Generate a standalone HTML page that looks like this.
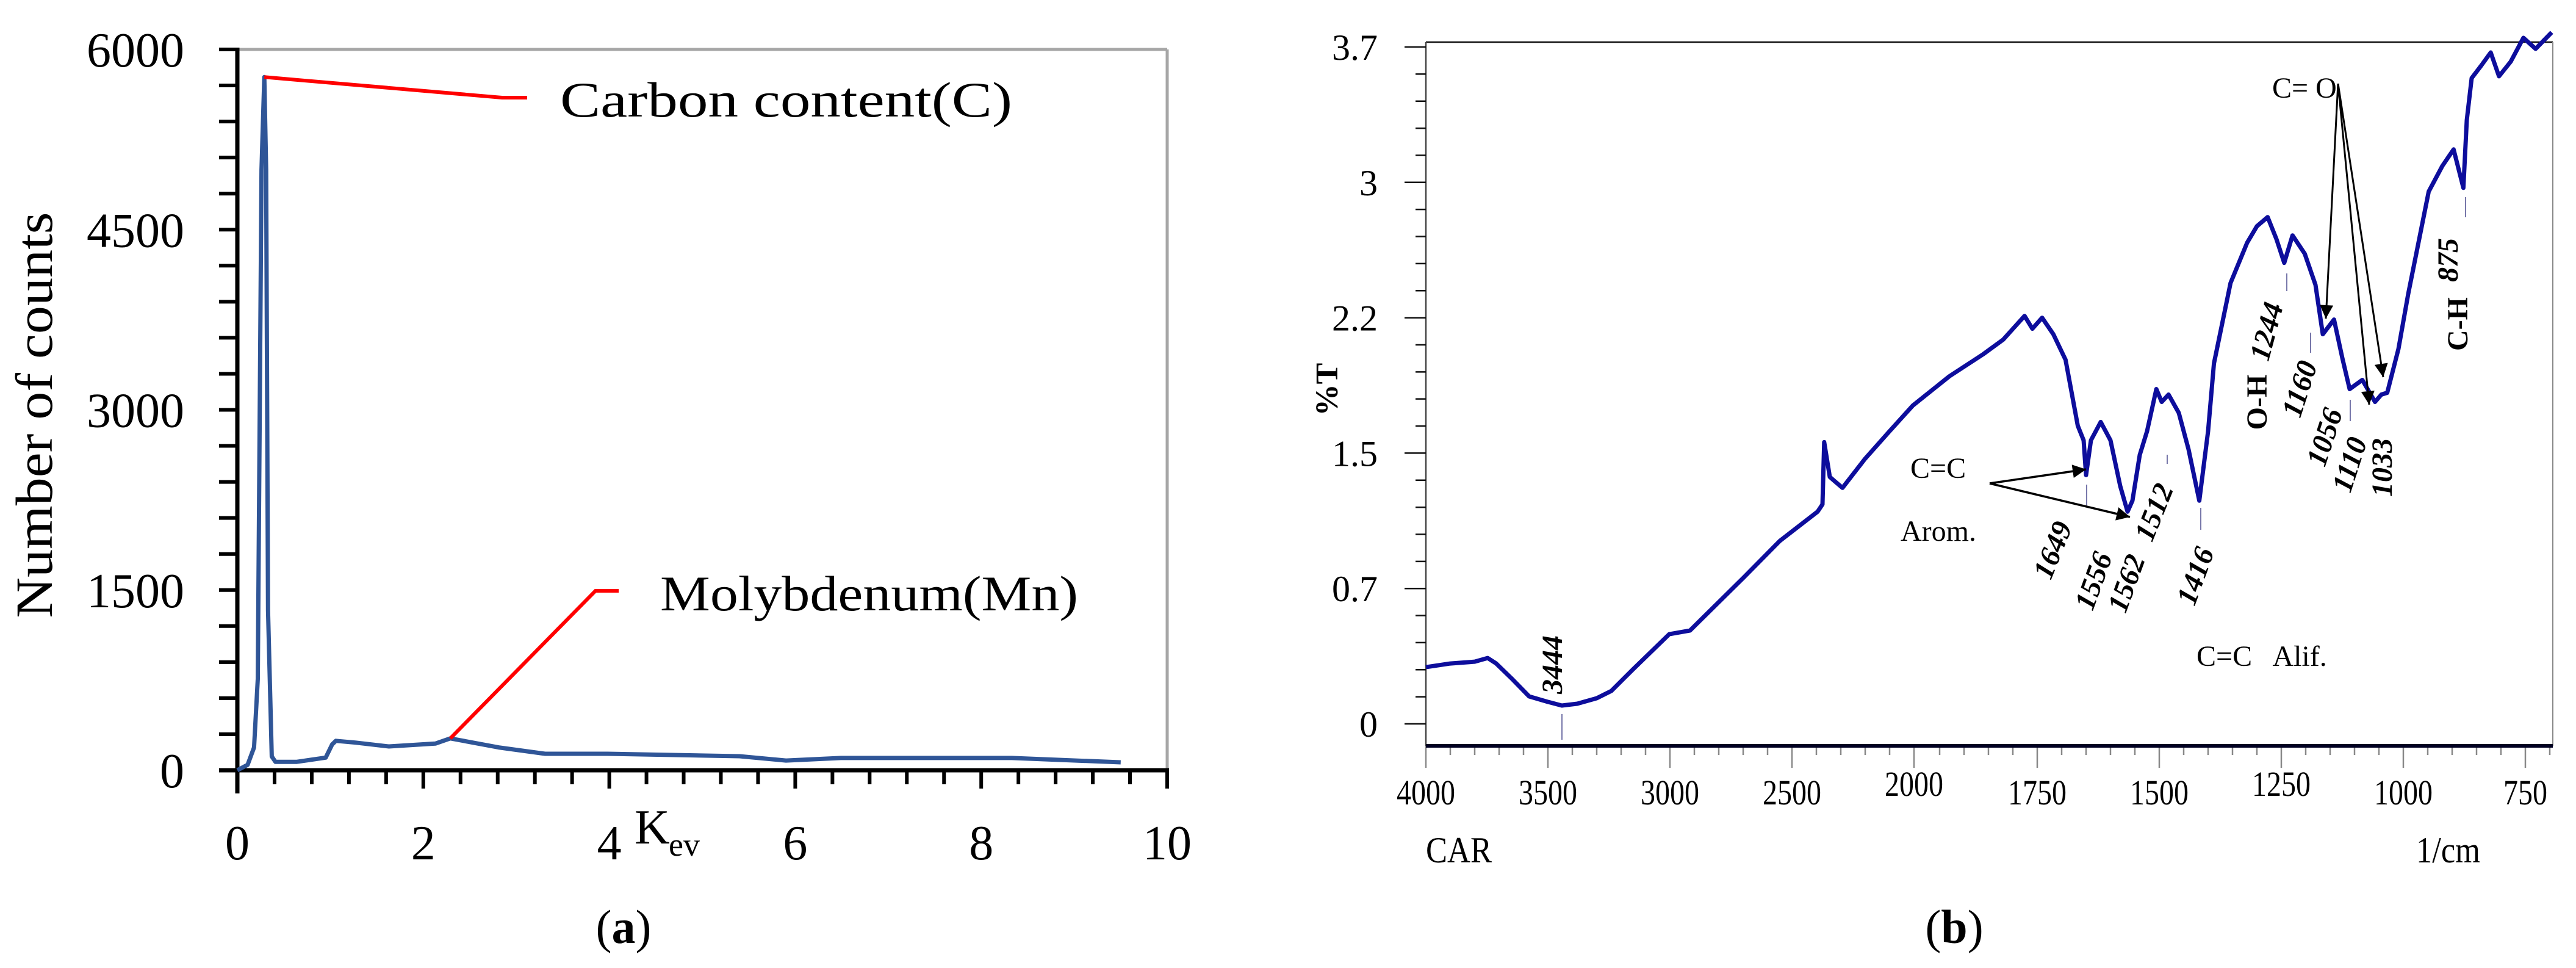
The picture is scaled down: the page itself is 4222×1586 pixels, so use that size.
<!DOCTYPE html>
<html><head><meta charset="utf-8"><style>
html,body{margin:0;padding:0;background:#fff;}
svg{display:block;}
text{font-family:"Liberation Serif",serif;}
</style></head><body>
<svg id="fig" width="4222" height="1586" viewBox="0 0 4222 1586" xmlns="http://www.w3.org/2000/svg">
<defs>
<marker id="ah" viewBox="0 0 10 10" refX="10" refY="5" markerWidth="48" markerHeight="22" markerUnits="userSpaceOnUse" orient="auto">
<path d="M0,0 L10,5 L0,10 z" fill="#000"/></marker>
</defs>
<g id="chartA"></g>
<g id="chartB"></g>
</svg>
<script>
// ---------- Chart (a) data ----------
const edsKev = [0,0.11,0.18,0.22,0.26,0.29,0.31,0.33,0.37,0.41,0.64,0.95,1.02,1.06,1.27,1.63,2.13,2.29,2.81,3.31,3.98,5.4,5.9,6.49,8.33,9.5];
const edsCounts = [0,45,190,760,5000,5770,5000,1330,115,70,70,105,215,245,230,198,222,265,190,137,137,117,81,102,102,66];
const edsXTicks = [0,2,4,6,8,10];
const edsYTicks = [0,1500,3000,4500,6000];

// ---------- Chart (b) data ----------
const ftirWave = [4000,3900,3800,3747,3712,3650,3577,3500,3443,3380,3300,3240,3150,3003,2918,2850,2698,2550,2395,2375,2368,2345,2328,2293,2200,2100,2005,1930,1861,1820,1776,1760,1740,1717,1692,1667,1655,1650,1640,1620,1600,1580,1565,1555,1540,1525,1506,1495,1481,1460,1440,1418,1400,1388,1354,1320,1300,1278,1260,1244,1227,1202,1180,1165,1142,1125,1110,1084,1058,1045,1033,1010,990,948,920,897,877,870,860,840,821,804,780,754,729,696];
const ftirT = [0.31,0.33,0.34,0.36,0.33,0.25,0.15,0.12,0.10,0.11,0.14,0.18,0.30,0.49,0.51,0.60,0.80,1.00,1.16,1.20,1.54,1.35,1.33,1.29,1.45,1.60,1.74,1.90,2.02,2.10,2.23,2.16,2.22,2.13,1.99,1.63,1.55,1.36,1.55,1.65,1.55,1.30,1.16,1.22,1.47,1.60,1.83,1.76,1.80,1.70,1.50,1.22,1.60,1.97,2.41,2.63,2.72,2.77,2.65,2.52,2.67,2.57,2.40,2.13,2.21,2.00,1.83,1.88,1.76,1.80,1.81,2.05,2.35,2.91,3.05,3.14,2.93,3.30,3.53,3.60,3.67,3.54,3.62,3.75,3.69,3.78];
const ftirXTicks = [4000,3500,3000,2500,2000,1750,1500,1250,1000,750];
const ftirYTickValues = [0,0.74,1.48,2.22,2.96,3.7];
const ftirYTickLabels = ["0","0.7","1.5","2.2","3","3.7"];
const peakLabels = ["3444","1649","1556","1562","1512","1416","1244","1160","1056","1110","1033","875"];
const peakWaves = [3444,1649,1556,1562,1512,1416,1244,1160,1056,1110,1033,875];

const NS="http://www.w3.org/2000/svg";
function mk(parent,tag,attrs,txt){const e=document.createElementNS(NS,tag);for(const k in attrs)e.setAttribute(k,attrs[k]);if(txt!==undefined)e.textContent=txt;parent.appendChild(e);return e;}

// ================= Chart A =================
const A=document.getElementById('chartA');
const ax0=389, ax1=1913, ay0=1262, ay1=81;
const xA=v=>ax0+(v/10)*(ax1-ax0);
const yA=v=>ay0-(v/6000)*(ay0-ay1);

let e;
e=mk(A,'line',{x1:ax0,y1:ay1,x2:ax1,y2:ay1,stroke:'#a6a6a6','stroke-width':5});


e=mk(A,'line',{x1:ax1,y1:ay1,x2:ax1,y2:ay0,stroke:'#a6a6a6','stroke-width':5});


for(let v=0;v<=6000;v+=300){
  e=mk(A,'line',{x1:359,y1:yA(v),x2:ax0,y2:yA(v),stroke:'#000','stroke-width':6});
  
  
}
edsYTicks.forEach(v=>{
  e=mk(A,'text',{x:302,y:yA(v)+28,'font-size':80,'text-anchor':'end',textLength:160,lengthAdjust:'spacingAndGlyphs'},String(v));
  if(v<1000){e.removeAttribute('textLength');}
  
  
});
for(let i=0;i<=25;i++){
  const v=i*0.4; const major=(i%5===0);
  e=mk(A,'line',{x1:xA(v),y1:ay0,x2:xA(v),y2:major?1292:1285,stroke:'#000','stroke-width':6});
  
  
}
edsXTicks.forEach(v=>{
  e=mk(A,'text',{x:xA(v),y:1408,'font-size':80,'text-anchor':'middle'},String(v));
  
  
});
e=mk(A,'line',{x1:ax0,y1:ay1-3,x2:ax0,y2:1300,stroke:'#000','stroke-width':7});


e=mk(A,'line',{x1:359,y1:ay0,x2:ax1+3,y2:ay0,stroke:'#000','stroke-width':7});


let dA=edsKev.map((k,i)=>(i?'L':'M')+xA(k).toFixed(1)+','+yA(edsCounts[i]).toFixed(1)).join(' ');
e=mk(A,'path',{d:dA,fill:'none',stroke:'#2F5597','stroke-width':7,'stroke-linejoin':'round'});


e=mk(A,'polyline',{points:`${xA(0.29)},${yA(5770)} 823,160 864,160`,fill:'none',stroke:'#ff0000','stroke-width':6});


e=mk(A,'text',{x:918,y:191,'font-size':82,textLength:741,lengthAdjust:'spacingAndGlyphs'},'Carbon content(C)');


e=mk(A,'polyline',{points:`${xA(2.29)},${yA(265)} 976,968 1014,968`,fill:'none',stroke:'#ff0000','stroke-width':6});


e=mk(A,'text',{x:1082,y:1000,'font-size':82,textLength:685,lengthAdjust:'spacingAndGlyphs'},'Molybdenum(Mn)');


e=mk(A,'text',{x:0,y:0,'font-size':86,'text-anchor':'middle',transform:'translate(85,680) rotate(-90)',textLength:665,lengthAdjust:'spacingAndGlyphs'},'Number of counts');


e=mk(A,'text',{x:1040,y:1382,'font-size':80},'K');


e=mk(A,'text',{x:1096,y:1402,'font-size':54},'ev');


e=mk(A,'text',{x:1022,y:1545,'font-size':78,'text-anchor':'middle'});


e.innerHTML='(<tspan font-weight="bold">a</tspan>)';

// ================= Chart B =================
const B=document.getElementById('chartB');
const bx0=2337, bx1=4184, by0=1186, by1=77, byTop=69, byAxis=1222;
const xB=w=> w>=2000 ? bx0+(4000-w)*0.4 : 3139+(2000-w)*0.8;
const yB=v=>by0-(v/3.7)*(by0-by1);

e=mk(B,'line',{x1:bx0,y1:byTop,x2:bx1,y2:byTop,stroke:'#111','stroke-width':2.5});


e=mk(B,'line',{x1:bx1,y1:byTop,x2:bx1,y2:byAxis,stroke:'#888','stroke-width':2});


e=mk(B,'line',{x1:bx0,y1:byTop,x2:bx0,y2:byAxis,stroke:'#444','stroke-width':2.5});


for(let i=0;i<=25;i++){
  const v=i*3.7/25; const major=i%5===0;
  e=mk(B,'line',{x1:major?2302:2320,y1:yB(v),x2:bx0,y2:yB(v),stroke:'#111','stroke-width':2.5});
  
  
}
ftirYTickValues.forEach((v,i)=>{
  e=mk(B,'text',{x:2258,y:yB(v)+21,'font-size':60,'text-anchor':'end'},ftirYTickLabels[i]);
  
  
});
for(let w=4000; w>=700; w-= (w>2000?100:50)){
  const major=ftirXTicks.includes(w);
  e=mk(B,'line',{x1:xB(w),y1:byAxis,x2:xB(w),y2:major?1258:1237,stroke:'#888','stroke-width':2.5});
  
  
}
ftirXTicks.forEach(w=>{
  const raised=(w===2000||w===1250);
  e=mk(B,'text',{x:xB(w),y:raised?1304:1318,'font-size':58,'text-anchor':'middle',textLength:w>=1000?96:72,lengthAdjust:'spacingAndGlyphs'},String(w));
  
  
});
e=mk(B,'line',{x1:bx0,y1:byAxis,x2:bx1,y2:byAxis,stroke:'#000022','stroke-width':6});


let dB=ftirWave.map((w,i)=>(i?'L':'M')+xB(w).toFixed(1)+','+yB(ftirT[i]).toFixed(1)).join(' ');
e=mk(B,'path',{d:dB,fill:'none',stroke:'#0d0d9c','stroke-width':7,'stroke-linejoin':'round'});



const peakRot=[-90,-68,-70,-70,-68,-70,-75,-72,-72,-72,-90,-90];
const peakPos=[[2560,1073],[3379,891],[3446,941],[3500,945],[3545,829],[3613,933],[3730,531],[3784,626],[3825,705],[3866,750],[3920,750],[4028,410]];
peakLabels.forEach((t,i)=>{
  e=mk(B,'text',{x:0,y:0,'font-size':48,'font-weight':'bold','font-style':'italic','text-anchor':'middle',transform:`translate(${peakPos[i][0]},${peakPos[i][1]+16}) rotate(${peakRot[i]})`},t);
  
  
});
const leaders=[[2560,1170,2560,1212],[3420,794,3420,828],[3607,832,3607,868],[3748,448,3748,477],[4041,323,4041,356],[3552,745,3552,760],[3852,655,3852,690],[3787,545,3787,578]];
leaders.forEach(l=>{
  e=mk(B,'line',{x1:l[0],y1:l[1],x2:l[2],y2:l[3],stroke:'#7777aa','stroke-width':2});
  
  
});
function lab(txt,x,y,fs){return mk(B,'text',{x:x,y:y,'font-size':fs,style:'white-space:pre'},txt);}
e=lab('C= O',3724,160,48);


[[3812,522],[3883,663],[3906,618]].forEach(p=>{
  e=mk(B,'line',{x1:3832,y1:137,x2:p[0],y2:p[1],stroke:'#000','stroke-width':3,'marker-end':'url(#ah)'});
  
  
});
e=lab('C=C',3131,783,48);


[[3419,769],[3491,847]].forEach(p=>{
  e=mk(B,'line',{x1:3261,y1:792,x2:p[0],y2:p[1],stroke:'#000','stroke-width':3.5,'marker-end':'url(#ah)'});
  
  
});
e=lab('Arom.',3115,886,48);


e=lab('C=C   Alif.',3600,1091,48);


e=mk(B,'text',{x:0,y:0,'font-size':48,'font-weight':'bold','text-anchor':'middle',transform:'translate(3715,659) rotate(-90)'},'O-H');


e=mk(B,'text',{x:0,y:0,'font-size':48,'font-weight':'bold','text-anchor':'middle',transform:'translate(4044,531) rotate(-90)'},'C-H');


e=mk(B,'text',{x:0,y:0,'font-size':52,'font-weight':'bold','text-anchor':'middle',transform:'translate(2192,638) rotate(-90)'},'%T');


e=mk(B,'text',{x:2337,y:1413,'font-size':60,textLength:108,lengthAdjust:'spacingAndGlyphs'},'CAR');


e=mk(B,'text',{x:3960,y:1413,'font-size':60,textLength:105,lengthAdjust:'spacingAndGlyphs'},'1/cm');


e=mk(B,'text',{x:3203,y:1545,'font-size':78,'text-anchor':'middle'});


e.innerHTML='(<tspan font-weight="bold">b</tspan>)';
</script>
</body></html>
